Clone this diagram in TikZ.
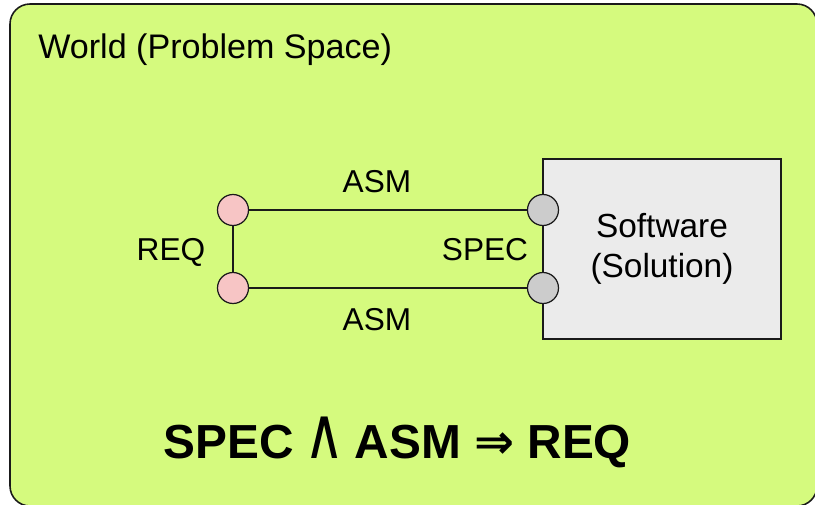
\documentclass[tikz,border=0pt]{standalone}
\usepackage{fontspec}
\setmainfont{Liberation Sans}
\newfontfamily\symbolfont{DejaVu Sans}
\usepackage{graphicx}
\usepackage{tikz}
\definecolor{WorldGreen}{HTML}{D5FA7E}
\definecolor{PortPink}{HTML}{F7C5C5}
\definecolor{PortGray}{HTML}{CCCCCC}
\definecolor{BoxGray}{HTML}{EBEBEB}
\definecolor{EdgeBlack}{HTML}{1A1A1A}

\begin{document}
\begin{tikzpicture}[
  world/.style={rectangle, rounded corners=0.4cm, draw=EdgeBlack, line width=0.9pt, fill=WorldGreen},
  system/.style={rectangle, draw=EdgeBlack, line width=0.75pt, fill=BoxGray, align=center, font=\fontsize{19}{22.8}\selectfont},
  port/.style={circle, draw=EdgeBlack, line width=0.7pt, fill=#1, minimum size=0.62cm, inner sep=0pt},
  tag/.style={inner sep=0pt, font=\fontsize{18}{20}\selectfont},
  wire/.style={draw=EdgeBlack, line width=0.85pt}
]
\clip (0,0) rectangle (16.3,-10.1);

\node[world, minimum width=16.14cm, minimum height=10.04cm] (space) at (8.27,-5.10) {};
\node[tag, anchor=base west, font=\fontsize{19.4}{22}\selectfont] (title) at (0.76,-1.16) {World (Problem Space)};

\node[system, minimum width=4.76cm, minimum height=3.6cm] (software) at (13.24,-4.98) {Software\\(Solution)};

\node[port=PortPink] (reqtop) at (4.66,-4.20) {};
\node[port=PortPink] (reqbot) at (4.66,-5.76) {};
\node[port=PortGray] (spectop) at (10.86,-4.20) {};
\node[port=PortGray] (specbot) at (10.86,-5.76) {};

\draw[wire] (reqtop) -- (spectop);
\draw[wire] (reqbot) -- (specbot);
\draw[wire] (reqtop) -- (reqbot);

\node[tag, anchor=base] (asmtop) at (7.54,-3.84) {ASM};
\node[tag, anchor=base] (asmbot) at (7.54,-6.60) {ASM};
\node[tag, anchor=base] (req) at (3.42,-5.20) {REQ};
\node[tag, anchor=base] (spec) at (9.70,-5.20) {SPEC};

\node[tag, anchor=base, font=\fontsize{27.2}{30}\selectfont\bfseries] (formula) at (7.95,-9.16) {SPEC {\symbolfont\mdseries\kern-0.05em\scalebox{1.15}[1.5]{∧}\kern-0.08em} ASM {\symbolfont ⇒} REQ};
\end{tikzpicture}
\end{document}
